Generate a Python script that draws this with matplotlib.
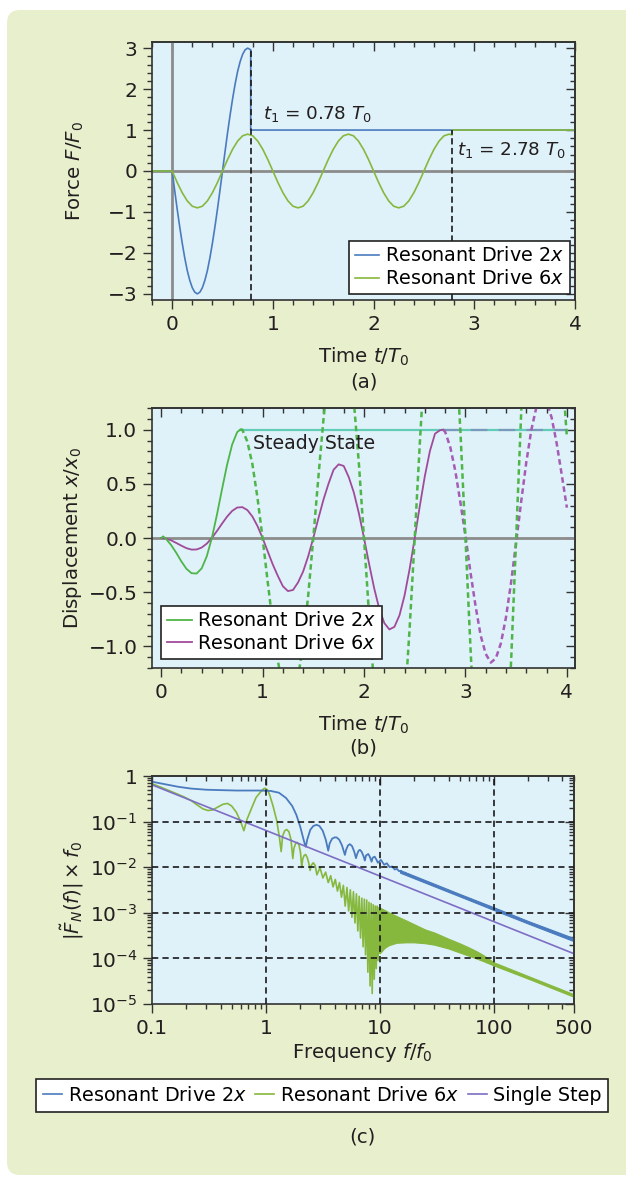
import matplotlib.pyplot as plt
from matplotlib.patches import FancyBboxPatch
from matplotlib.transforms import IdentityTransform
from matplotlib.ticker import MultipleLocator, FixedLocator, LogLocator, NullFormatter
from matplotlib.lines import Line2D

plt.rcParams['font.family'] = ['DejaVu Sans']
plt.rcParams['mathtext.fontset'] = 'dejavusans'
plt.rcParams['lines.scale_dashes'] = False
plt.rcParams['font.size'] = 14

# ---------------- panel (a): drive force ----------------
time_a2 = [-0.2, 0.0, 0.025, 0.05, 0.075, 0.1, 0.125, 0.15, 0.175, 0.2, 0.225, 0.25,
           0.275, 0.3, 0.325, 0.35, 0.375, 0.4, 0.425, 0.45, 0.475, 0.5,
           0.525, 0.55, 0.575, 0.6, 0.625, 0.65, 0.675, 0.7, 0.725, 0.75,
           0.78, 0.78, 4.0]
force_2x = [0.0, 0.0, -0.47, -0.93, -1.36, -1.76, -2.12, -2.43, -2.67, -2.85, -2.96, -3.0,
            -2.96, -2.85, -2.67, -2.43, -2.12, -1.76, -1.36, -0.93, -0.47, 0.0,
            0.47, 0.93, 1.36, 1.76, 2.12, 2.43, 2.67, 2.85, 2.96, 3.0,
            2.96, 1.0, 1.0]

time_a6 = [-0.2, 0.0, 0.05, 0.1, 0.15, 0.2, 0.25, 0.3, 0.35, 0.4, 0.45, 0.5, 0.55, 0.6, 0.65,
           0.7, 0.75, 0.8, 0.85, 0.9, 0.95, 1.0, 1.05, 1.1, 1.15, 1.2, 1.25, 1.3, 1.35,
           1.4, 1.45, 1.5, 1.55, 1.6, 1.65, 1.7, 1.75, 1.8, 1.85, 1.9, 1.95, 2.0, 2.05,
           2.1, 2.15, 2.2, 2.25, 2.3, 2.35, 2.4, 2.45, 2.5, 2.55, 2.6, 2.65, 2.7, 2.75,
           2.78, 2.78, 4.0]
force_6x = [0.0,
            0.0, -0.28, -0.53, -0.73, -0.86, -0.9, -0.86, -0.73, -0.53, -0.28,
            0.0, 0.28, 0.53, 0.73, 0.86, 0.9, 0.86, 0.73, 0.53, 0.28,
            0.0, -0.28, -0.53, -0.73, -0.86, -0.9, -0.86, -0.73, -0.53, -0.28,
            0.0, 0.28, 0.53, 0.73, 0.86, 0.9, 0.86, 0.73, 0.53, 0.28,
            0.0, -0.28, -0.53, -0.73, -0.86, -0.9, -0.86, -0.73, -0.53, -0.28,
            0.0, 0.28, 0.53, 0.73, 0.86, 0.9,
            0.88, 1.0, 1.0]

switch_times = [0.78, 2.78]
switch_tops = [2.96, 1.0]

# ---------------- panel (b): displacement ----------------
time_b2 = [0.0, 0.02, 0.05, 0.1, 0.15, 0.2, 0.25, 0.3, 0.35, 0.4, 0.45, 0.5, 0.55, 0.6,
           0.65, 0.7, 0.75, 0.78]
disp_2x = [0.0, 0.015, -0.01, -0.067, -0.138, -0.217, -0.285, -0.325, -0.328, -0.28,
           -0.169, 0.0, 0.214, 0.449, 0.675, 0.862, 0.978, 1.0]

time_b2_free = [0.78, 0.8, 0.85, 0.9, 0.95, 1.0, 1.05, 1.1, 1.15, 1.2, 1.25, 1.3, 1.35, 1.4,
                1.45, 1.5, 1.55, 1.6, 1.65, 1.7, 1.75, 1.8, 1.85, 1.9, 1.95, 2.0, 2.05,
                2.1, 2.15, 2.2, 2.25, 2.3, 2.35, 2.4, 2.45, 2.5, 2.55, 2.6, 2.65, 2.7,
                2.75, 2.8, 2.85, 2.9, 2.95, 3.0, 3.05, 3.1, 3.15, 3.2, 3.25, 3.3, 3.35,
                3.4, 3.45, 3.5, 3.55, 3.6, 3.65, 3.7, 3.75, 3.8, 3.85, 3.9, 3.95, 4.0]
disp_2x_free = [1.0, 1.0, 0.89, 0.68, 0.37, 0.0, -0.40, -0.79, -1.13, -1.38, -1.5,
                -1.47, -1.29, -0.97, -0.53, 0.0, 0.56, 1.09, 1.54, 1.85, 2.0,
                1.95, 1.70, 1.26, 0.68, 0.0, -0.71, -1.38, -1.94, -2.33, -2.5,
                -2.43, -2.10, -1.56, -0.83, 0.0, 0.87, 1.68, 2.35, 2.81, 3.0,
                2.90, 2.51, 1.85, 0.99, 0.0, -1.02, -1.97, -2.75, -3.28, -3.5,
                -3.38, -2.91, -2.15, -1.14, 0.0, 1.17, 2.26, 3.16, 3.76, 4.0,
                3.85, 3.32, 2.44, 1.6, 0.93]

time_b6 = [0.0, 0.05, 0.1, 0.15, 0.2, 0.25, 0.3, 0.35, 0.4, 0.45, 0.5, 0.55, 0.6, 0.65,
           0.7, 0.75, 0.8, 0.85, 0.9, 0.95, 1.0, 1.05, 1.1, 1.15, 1.2, 1.25, 1.3, 1.35,
           1.4, 1.45, 1.5, 1.55, 1.6, 1.65, 1.7, 1.75, 1.8, 1.85, 1.9, 1.95, 2.0, 2.05,
           2.1, 2.15, 2.2, 2.25, 2.3, 2.35, 2.4, 2.45, 2.5, 2.55, 2.6, 2.65, 2.7, 2.75,
           2.78]
disp_6x = [0.0, -0.006, -0.022, -0.046, -0.071, -0.094, -0.107, -0.106, -0.088, -0.052,
           0.0, 0.064, 0.132, 0.197, 0.25, 0.281, 0.285, 0.258, 0.198, 0.11,
           0.0, -0.122, -0.243, -0.349, -0.445, -0.49, -0.48, -0.41, -0.309, -0.168,
           0.0, 0.18, 0.353, 0.501, 0.63, 0.68, 0.665, 0.561, 0.419, 0.226,
           0.0, -0.238, -0.463, -0.652, -0.785, -0.844, -0.82, -0.713, -0.529, -0.284,
           0.0, 0.295, 0.573, 0.804, 0.963, 0.995, 1.0]

time_b6_free = [2.78, 2.8, 2.85, 2.9, 2.95, 3.0, 3.05, 3.1, 3.15, 3.2, 3.25, 3.3, 3.35,
                3.4, 3.45, 3.5, 3.55, 3.6, 3.65, 3.7, 3.75, 3.8, 3.85, 3.9, 3.95, 4.0]
disp_6x_free = [1.0, 0.98, 0.84, 0.62, 0.33, 0.02, -0.32, -0.63, -0.90, -1.07, -1.15,
                -1.11, -0.97, -0.73, -0.41, -0.04, 0.34, 0.70, 1.0, 1.21, 1.30, 1.26,
                1.11, 0.87, 0.58, 0.28]

steady_2x_t = [0.78, 4.0]
steady_6x_t = [2.78, 4.0]
steady_level = [1.0, 1.0]

# ---------------- panel (c): spectrum ----------------
freq_2x = [0.1, 0.13, 0.17, 0.22, 0.3, 0.4, 0.55, 0.7, 0.9, 1.1, 1.3, 1.5, 1.7, 1.85, 2.0,
           2.1, 2.2, 2.24, 2.3, 2.45, 2.6, 2.78, 2.95, 3.15, 3.35, 3.52, 3.62, 3.8, 4.0,
           4.17, 4.4, 4.65, 4.93, 5.05, 5.25, 5.45, 5.7, 5.95, 6.17, 6.3, 6.5, 6.68, 6.9,
           7.15, 7.38, 7.55, 7.9, 8.15, 8.45, 8.65, 9.0, 9.3, 9.6, 10.2, 10.9, 11.5, 12.2,
           12.8, 13.5, 14.1, 14.7, 15.4, 16.0, 16.7, 17.3, 18.0, 18.6, 19.2, 20.0]
spec_2x = [0.75, 0.66, 0.58, 0.53, 0.50, 0.49, 0.48, 0.48, 0.48, 0.47, 0.43, 0.33, 0.22,
           0.14, 0.077, 0.048, 0.031, 0.028, 0.040, 0.066, 0.080, 0.085, 0.080, 0.063,
           0.040, 0.023, 0.033, 0.042, 0.045, 0.045, 0.040, 0.030, 0.0186, 0.024, 0.030,
           0.032, 0.029, 0.022, 0.0158, 0.019, 0.023, 0.024, 0.022, 0.018, 0.014, 0.018,
           0.0195, 0.017, 0.0132, 0.0162, 0.017, 0.0148, 0.0125, 0.0145, 0.0113, 0.0122,
           0.0100, 0.0104, 0.0089, 0.0092, 0.0082, 0.0083, 0.0075, 0.0076, 0.0070, 0.0069,
           0.0065, 0.0064, 0.0060]
band_2x_f = [15, 20, 50, 100, 200, 500]
band_2x_hi = [0.0086, 0.0065, 0.0026, 0.00132, 0.00066, 0.00028]
band_2x_lo = [0.0076, 0.0057, 0.0023, 0.00115, 0.00058, 0.00024]

freq_6x = [0.1, 0.13, 0.16, 0.19, 0.22, 0.25, 0.28, 0.31, 0.34, 0.38, 0.42, 0.46, 0.5, 0.55,
           0.6, 0.64, 0.68, 0.75, 0.82, 0.9, 0.95, 0.98, 1.03, 1.08, 1.16, 1.24, 1.31, 1.36,
           1.40, 1.46, 1.52, 1.59, 1.66, 1.72,
           1.76, 1.82, 1.88, 1.95, 2.01, 2.06,
           2.10, 2.16, 2.23, 2.31, 2.38, 2.44,
           2.50, 2.60, 2.70, 2.80,
           2.98, 3.16, 3.34, 3.52, 3.70, 3.88, 4.06, 4.24, 4.42, 4.60,
           4.78, 4.96, 5.14, 5.32, 5.50, 5.68, 5.86, 6.04, 6.22, 6.40, 6.58, 6.76, 6.94,
           7.12, 7.30, 7.48, 7.66, 7.84, 8.02, 8.20, 8.38, 8.56, 8.74, 8.92, 9.10, 9.28,
           9.46, 9.64, 9.82, 10.0]
spec_6x = [0.68, 0.52, 0.42, 0.35, 0.29, 0.23, 0.19, 0.175, 0.18, 0.21, 0.24, 0.25, 0.22,
           0.16, 0.10, 0.063, 0.11, 0.2, 0.34, 0.45, 0.52, 0.54, 0.50, 0.38, 0.21, 0.108,
           0.047, 0.022,
           0.048, 0.063, 0.067, 0.060, 0.040, 0.0155,
           0.026, 0.033, 0.035, 0.031, 0.021, 0.010,
           0.015, 0.018, 0.019, 0.016, 0.012, 0.0085,
           0.011, 0.0125, 0.011, 0.0068,
           0.0098, 0.0058, 0.0078, 0.0046, 0.0065, 0.0037, 0.0054, 0.003, 0.0046, 0.0022,
           0.0040, 0.0014, 0.0036, 0.0011, 0.0032, 0.0008, 0.0029, 0.0006, 0.0026, 0.0004,
           0.0023, 0.00028, 0.0021, 0.00018, 0.0020, 0.00012, 0.0019, 0.00005, 0.0017,
           0.000025, 0.0016, 0.000017, 0.0015, 0.000035, 0.0014, 0.00006, 0.0014, 0.00009,
           0.0013, 0.00013]
band_6x_f = [10, 11, 12, 14, 17, 20, 25, 30, 40, 50, 60, 70, 80, 100, 200, 500]
band_6x_hi = [1.3e-3, 1.15e-3, 1.02e-3, 8.5e-4, 6.8e-4, 5.6e-4, 4.3e-4, 3.7e-4, 2.7e-4,
              2.15e-4, 1.75e-4, 1.45e-4, 1.2e-4, 8.2e-5, 4.1e-5, 1.65e-5]
band_6x_lo = [1.3e-4, 1.7e-4, 1.95e-4, 2.2e-4, 2.25e-4, 2.25e-4, 2.15e-4, 2.0e-4, 1.65e-4,
              1.35e-4, 1.15e-4, 1.0e-4, 8.8e-5, 7.0e-5, 3.6e-5, 1.45e-5]

freq_step = [0.1, 500]
spec_step = [0.64, 1.28e-4]

grid_freqs = [1, 10, 100]
grid_levels = [1e-1, 1e-2, 1e-3, 1e-4]

# ---------------- styling ----------------
TXT = '#231f20'
SPINE = '#333333'
BG = '#dff1f9'
BLUE = '#4a7bbf'
GREEN_A = '#86b83e'
GREEN_B = '#4eb548'
PURPLE_B = '#a04a9a'
PURPLE_BD = '#a55cb5'
TEAL = '#62cdb7'
LAVENDER = '#7d6dc4'
GRAY = '#8c8c8c'
TICK_FS = 14.5
LEG_FS = 13.8
LAB_FS = 14.2
ANN_FS = 13.2

W, H = 626, 1177


def fx(px):
    return px / W


def fy(py):
    return 1 - py / H


fig = plt.figure(figsize=(W / 100, H / 100), dpi=100, facecolor='white')
fig.add_artist(FancyBboxPatch((7, 2), 680, 1165, boxstyle='round,pad=0,rounding_size=13',
                              transform=IdentityTransform(), facecolor='#e8efcd',
                              edgecolor='none', zorder=-10))


def style(ax, xmaj=None, xmin=None, ymaj=None, ymin=None):
    ax.set_facecolor(BG)
    for s in ax.spines.values():
        s.set_color(SPINE)
        s.set_linewidth(1.2)
    ax.tick_params(which='both', direction='out', color=SPINE, labelcolor=TXT,
                   labelsize=TICK_FS, width=1.0)
    ax.tick_params(which='major', length=6.5, pad=4)
    ax.tick_params(which='minor', length=3.5)
    top = ax.secondary_xaxis('top')
    right = ax.secondary_yaxis('right')
    for sec in (top, right):
        sec.tick_params(which='both', direction='in', color=SPINE, width=1.0)
        sec.tick_params(which='major', length=6.5)
        sec.tick_params(which='minor', length=3.5)
        for s in sec.spines.values():
            s.set_color(SPINE)
            s.set_linewidth(1.2)
    if xmaj is not None:
        for a in (ax.xaxis, top.xaxis):
            a.set_major_locator(MultipleLocator(xmaj))
            a.set_minor_locator(MultipleLocator(xmin))
    if ymaj is not None:
        for a in (ax.yaxis, right.yaxis):
            a.set_major_locator(MultipleLocator(ymaj))
            a.set_minor_locator(MultipleLocator(ymin))
    for a in (top.xaxis, right.yaxis):
        a.set_major_formatter(NullFormatter())
        a.set_minor_formatter(NullFormatter())
    return top, right


def legend_frame(leg):
    fr = leg.get_frame()
    fr.set_edgecolor('#222222')
    fr.set_linewidth(1.2)
    fr.set_facecolor('white')
    fr.set_alpha(1)


# panel (a)
ax_a = fig.add_axes([fx(152), fy(300), fx(423), 258 / H])
ax_a.set_xlim(-0.2, 4)
ax_a.set_ylim(-3.15, 3.15)
ax_a.axhline(0, color=GRAY, lw=2.0, zorder=1)
ax_a.axvline(0, color=GRAY, lw=2.0, zorder=1)
ax_a.plot(time_a2, force_2x, color=BLUE, lw=1.2, zorder=2, label='Resonant Drive 2$x$')
ax_a.plot(time_a6, force_6x, color=GREEN_A, lw=1.2, zorder=2.1, label='Resonant Drive 6$x$')
ax_a.vlines(switch_times, -3.15, switch_tops, colors='#1a1a1a', lw=1.2,
            linestyles=[(0, (4.5, 2.5))], zorder=3)
ax_a.text(0.9, 1.27, r'$t_1$ = 0.78 $T_0$', fontsize=ANN_FS, color=TXT, va='baseline')
ax_a.text(2.83, 0.39, r'$t_1$ = 2.78 $T_0$', fontsize=ANN_FS, color=TXT, va='baseline')
style(ax_a, 1, 0.2, 1, 0.2)
leg = ax_a.legend(loc='lower right', bbox_to_anchor=(0.988, 0.023), borderaxespad=0,
                  fancybox=False, fontsize=LEG_FS, handlelength=1.3, handletextpad=0.3,
                  labelspacing=0.2, borderpad=0.3)
legend_frame(leg)

# panel (b)
ax_b = fig.add_axes([fx(152), fy(668), fx(423), 260 / H])
ax_b.set_xlim(-0.09, 4.08)
ax_b.set_ylim(-1.2, 1.2)
ax_b.axhline(0, color=GRAY, lw=2.0, zorder=1)
ax_b.plot(steady_2x_t, steady_level, color=TEAL, lw=1.6, zorder=2)
ax_b.plot(steady_6x_t, steady_level, color='#8a78c0', lw=1.6, alpha=0.6,
          ls=(0, (12, 8)), zorder=2.05)
ax_b.plot(time_b6, disp_6x, color=PURPLE_B, lw=1.3, zorder=2.2)
ax_b.plot(time_b6_free, disp_6x_free, color=PURPLE_BD, lw=1.8, ls=(0, (4, 2.6)), zorder=2.2)
ax_b.plot(time_b2, disp_2x, color=GREEN_B, lw=1.3, zorder=2.3)
ax_b.plot(time_b2_free, disp_2x_free, color=GREEN_B, lw=1.8, ls=(0, (4, 2.6)), zorder=2.3)
ax_b.text(0.906, 0.82, 'Steady State', fontsize=13.6, color=TXT, va='baseline', zorder=4)
style(ax_b, 1, 0.2, 0.5, 0.1)
hb = [Line2D([], [], color=GREEN_B, lw=1.3), Line2D([], [], color=PURPLE_B, lw=1.3)]
leg = ax_b.legend(hb, ['Resonant Drive 2$x$', 'Resonant Drive 6$x$'], loc='lower left',
                  bbox_to_anchor=(0.021, 0.035), borderaxespad=0, fancybox=False,
                  fontsize=LEG_FS, handlelength=1.3, handletextpad=0.3, labelspacing=0.2,
                  borderpad=0.3)
legend_frame(leg)
leg.set_zorder(5)

# panel (c)
ax_c = fig.add_axes([fx(152), fy(1004), 421.5 / W, 228 / H])
ax_c.set_xscale('log')
ax_c.set_yscale('log')
ax_c.set_xlim(0.1, 500)
ax_c.set_ylim(1e-5, 1)
ax_c.plot(freq_6x, spec_6x, color=GREEN_A, lw=1.2, zorder=2)
ax_c.fill_between(band_6x_f, band_6x_lo, band_6x_hi, color=GREEN_A, lw=0.8, zorder=2)
ax_c.plot(freq_2x, spec_2x, color=BLUE, lw=1.3, zorder=2.1)
ax_c.fill_between(band_2x_f, band_2x_lo, band_2x_hi, color=BLUE, lw=0.8, zorder=2.1)
ax_c.plot(freq_step, spec_step, color=LAVENDER, lw=1.2, zorder=2.2)
for g in grid_levels:
    ax_c.axhline(g, color='#1a1a1a', lw=1.2, ls=(0, (4.5, 3)), zorder=3)
for g in grid_freqs:
    ax_c.axvline(g, color='#1a1a1a', lw=1.2, ls=(0, (4.5, 3)), zorder=3)
top_c, right_c = style(ax_c)
ax_c.xaxis.set_major_locator(FixedLocator([0.1, 1, 10, 100, 500]))
ax_c.xaxis.set_ticklabels(['0.1', '1', '10', '100', '500'])
ax_c.xaxis.set_minor_locator(LogLocator(base=10, subs=(2, 3, 4, 5, 6, 7, 8, 9), numticks=20))
ax_c.xaxis.set_minor_formatter(NullFormatter())
ax_c.yaxis.set_major_locator(FixedLocator([1e-5, 1e-4, 1e-3, 1e-2, 1e-1, 1]))
ax_c.yaxis.set_ticklabels([r'$10^{-5}$', r'$10^{-4}$', r'$10^{-3}$', r'$10^{-2}$',
                           r'$10^{-1}$', '1'])
ax_c.yaxis.set_minor_locator(LogLocator(base=10, subs=(2, 3, 4, 5, 6, 7, 8, 9), numticks=20))
ax_c.yaxis.set_minor_formatter(NullFormatter())
for a in (top_c.xaxis, right_c.yaxis):
    a.set_minor_locator(LogLocator(base=10, subs=(2, 3, 4, 5, 6, 7, 8, 9), numticks=20))
    a.set_minor_formatter(NullFormatter())
    a.set_major_formatter(NullFormatter())

hc = [Line2D([], [], color=BLUE, lw=1.2), Line2D([], [], color=GREEN_A, lw=1.2),
      Line2D([], [], color=LAVENDER, lw=1.2)]
leg = fig.legend(hc, ['Resonant Drive 2$x$', 'Resonant Drive 6$x$', 'Single Step'],
                 loc='center', bbox_to_anchor=(fx(322), fy(1095.5)), ncol=3,
                 fancybox=False, fontsize=LEG_FS, handlelength=1.0, handletextpad=0.3,
                 columnspacing=0.45, borderpad=0.35)
legend_frame(leg)

# axis and panel labels
lab = dict(fontsize=LAB_FS, color=TXT, ha='center', va='center')
fig.text(fx(75), fy(171), 'Force $F/F_0$', rotation=90, **lab)
fig.text(fx(363.5), fy(357), 'Time $t/T_0$', **lab)
fig.text(fx(363.5), fy(382), '(a)', **lab)
fig.text(fx(72), fy(538), 'Displacement $x/x_0$', rotation=90, **lab)
fig.text(fx(363.5), fy(725), 'Time $t/T_0$', **lab)
fig.text(fx(363.5), fy(748), '(b)', **lab)
fig.text(fx(72), fy(890), r'$|\tilde{F}_N(f)|\times f_0$', rotation=90, **lab)
fig.text(fx(362), fy(1052), 'Frequency $f/f_0$', **lab)
fig.text(fx(362), fy(1137), '(c)', **lab)

fig.savefig('out.png', dpi=100, facecolor='white')
